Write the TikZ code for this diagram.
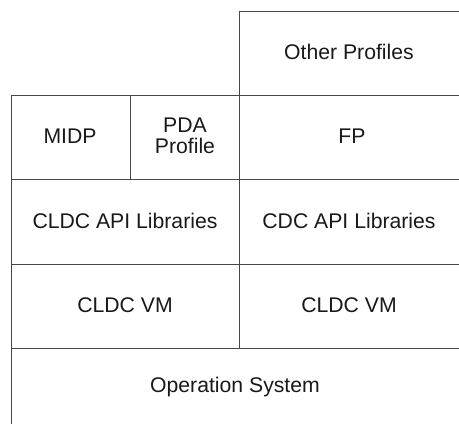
\documentclass[tikz,border=0pt]{standalone}
\usepackage{fontspec}
\setmainfont{Liberation Sans}
\begin{document}
\begin{tikzpicture}[x=1pt,y=-1pt,
  rule/.style={draw=black!72,line width=1pt},
  lbl/.style={font=\fontsize{21.2}{20.5}\selectfont,text=black!90,align=center,inner sep=0pt}]
\useasboundingbox (0,0) rectangle (459,424);
% lines
\draw[rule] (11,95) -- (11,424);
\draw[rule] (239,11) -- (239,348);
\draw[rule] (130,95) -- (130,179);
\draw[rule] (239,11) -- (459,11);
\draw[rule] (11,95) -- (459,95);
\draw[rule] (11,179) -- (459,179);
\draw[rule] (11,264) -- (459,264);
\draw[rule] (11,348) -- (459,348);
% labels
\node[lbl] (other) at (349,52) {Other Profiles};
\node[lbl] (midp) at (70,136) {MIDP};
\node[lbl] (pda) at (185,136) {PDA\\Profile};
\node[lbl] (fp) at (352,136) {FP};
\node[lbl] (cldcapi) at (125,221) {CLDC API Libraries};
\node[lbl] (cdcapi) at (349,221) {CDC API Libraries};
\node[lbl] (vm1) at (125,305) {CLDC VM};
\node[lbl] (vm2) at (349,305) {CLDC VM};
\node[lbl] (os) at (235,387) {Operation System};
\end{tikzpicture}
\end{document}
